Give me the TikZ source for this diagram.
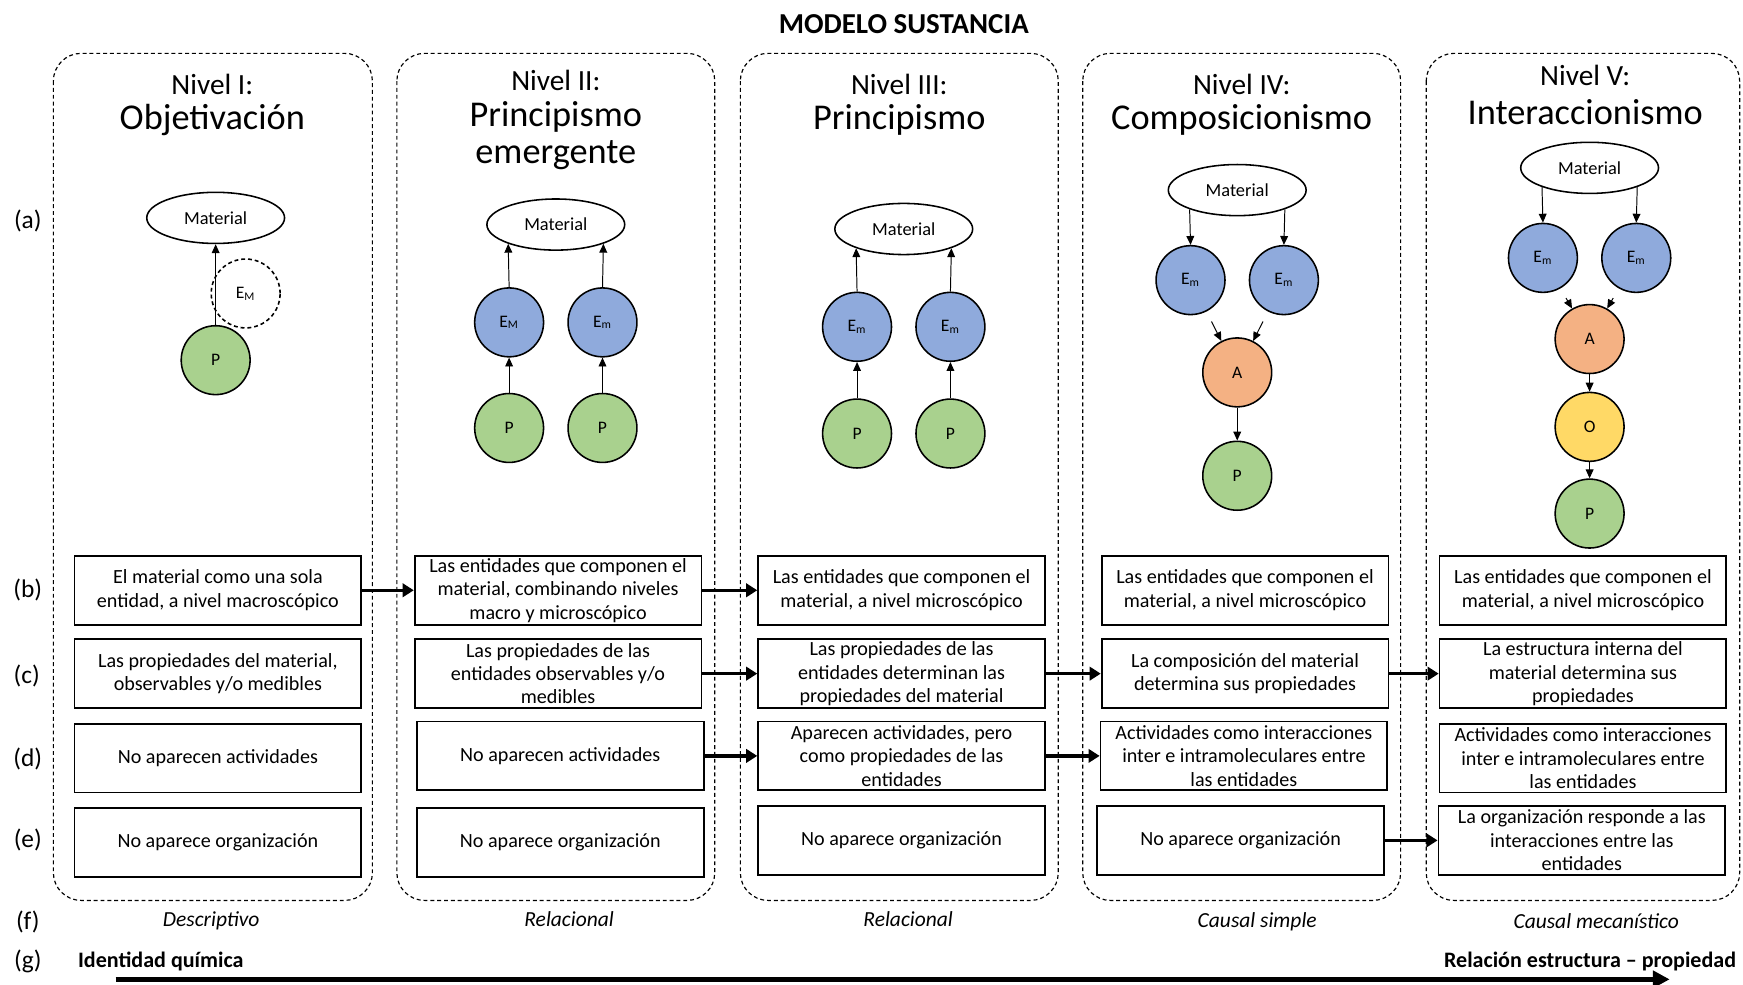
\documentclass[tikz,border=0pt]{standalone}
\usepackage{fontspec}
\setmainfont{Carlito}
\usetikzlibrary{arrows.meta,shapes.geometric}
\definecolor{entblue}{HTML}{8FAADC}
\definecolor{propgreen}{HTML}{A9D18E}
\definecolor{actorange}{HTML}{F4B183}
\definecolor{orgyellow}{HTML}{FFD966}
\begin{document}
\begin{tikzpicture}[x=0.02cm,y=-0.02cm,
    panel/.style={draw,line width=0.6pt,dash pattern=on 2pt off 1.5pt,rounded corners=0.5cm},
    niveltitle/.style={font=\fontsize{15}{18}\selectfont,inner sep=0pt},
    nivelname/.style={font=\fontsize{18.6}{22}\selectfont,inner sep=0pt},
    material/.style={ellipse,draw,line width=0.8pt,minimum width=2.48cm,minimum height=0.92cm,inner sep=0pt,font=\fontsize{9.4}{11}\selectfont},
    entity/.style={circle,draw,line width=0.8pt,fill=entblue,minimum size=1.24cm,inner sep=0pt,font=\fontsize{9}{11}\selectfont},
    prop/.style={entity,fill=propgreen},
    activity/.style={entity,fill=actorange},
    organiz/.style={entity,fill=orgyellow},
    textbox/.style={draw,line width=0.9pt,minimum width=5.16cm,minimum height=1.24cm,inner sep=0pt,align=center,font=\fontsize{10.3}{12}\selectfont},
    rowlabel/.style={font=\fontsize{13}{15}\selectfont},
    modo/.style={font=\fontsize{11}{13}\selectfont\itshape},
    axislabel/.style={font=\fontsize{11.3}{13}\selectfont\bfseries},
    thinarrow/.style={-{Triangle[length=1.6mm,width=1.4mm]},line width=0.5pt},
    boxarrow/.style={-{Triangle[length=2mm,width=2.4mm]},line width=1.7pt},
    axisarrow/.style={-{Triangle[length=3mm,width=3mm]},line width=2.8pt}]
  \useasboundingbox (0,0) rectangle (1568,886);
  \node[font=\fontsize{14.8}{17}\selectfont\bfseries] (title) at (813,22) {MODELO SUSTANCIA};
  \draw[panel] (48,48) rectangle (335,810);
  \draw[panel] (357,48) rectangle (643,810);
  \draw[panel] (666,48) rectangle (952,810);
  \draw[panel] (974,48) rectangle (1260,810);
  \draw[panel] (1283,48) rectangle (1565,810);
  \node[niveltitle] (t1a) at (191,76) {Nivel I:};
  \node[nivelname] (t1b) at (191,108) {Objetivación};
  \node[niveltitle] (t2a) at (500,72) {Nivel II:};
  \node[nivelname] (t2b) at (500,105) {Principismo};
  \node[nivelname] (t2c) at (500,140) {emergente};
  \node[niveltitle] (t3a) at (809,76) {Nivel III:};
  \node[nivelname] (t3b) at (809,108) {Principismo};
  \node[niveltitle] (t4a) at (1117,76) {Nivel IV:};
  \node[nivelname] (t4b) at (1117,108) {Composicionismo};
  \node[niveltitle] (t5a) at (1426,68) {Nivel V:};
  \node[nivelname] (t5b) at (1426,101) {Interaccionismo};
  \node[rowlabel] (la) at (25,199) {(a)};
  \node[rowlabel] (lb) at (25,531) {(b)};
  \node[rowlabel] (lc) at (24,608) {(c)};
  \node[rowlabel] (ld) at (25,683) {(d)};
  \node[rowlabel] (le) at (25,756) {(e)};
  \node[rowlabel] (lf) at (25,829) {(f)};
  \node[rowlabel] (lg) at (25,865) {(g)};
  \node[material] (mat1) at (194,196) {Material};
  \node[entity,fill=none,dash pattern=on 2pt off 1.5pt] (em1) at (221,264) {E\textsubscript{M}};
  \node[prop] (p1) at (194,324) {P};
  \draw[thinarrow] (p1.north) -- (mat1.south);
  \node[material] (mat2) at (500,202) {Material};
  \node[entity] (em2a) at (458,290) {E\textsubscript{M}};
  \node[entity] (em2b) at (542,290) {E\textsubscript{m}};
  \node[prop] (p2a) at (458,385) {P};
  \node[prop] (p2b) at (542,385) {P};
  \draw[thinarrow] (em2a.north) -- (mat2.202);
  \draw[thinarrow] (em2b.north) -- (mat2.338);
  \draw[thinarrow] (p2a.north) -- (em2a.south);
  \draw[thinarrow] (p2b.north) -- (em2b.south);
  \node[material] (mat3) at (813,206) {Material};
  \node[entity] (em3a) at (771,294) {E\textsubscript{m}};
  \node[entity] (em3b) at (855,294) {E\textsubscript{m}};
  \node[prop] (p3a) at (771,390) {P};
  \node[prop] (p3b) at (855,390) {P};
  \draw[thinarrow] (em3a.north) -- (mat3.202);
  \draw[thinarrow] (em3b.north) -- (mat3.338);
  \draw[thinarrow] (p3a.north) -- (em3a.south);
  \draw[thinarrow] (p3b.north) -- (em3b.south);
  \node[material] (mat4) at (1113,171) {Material};
  \node[entity] (em4a) at (1071,252) {E\textsubscript{m}};
  \node[entity] (em4b) at (1155,252) {E\textsubscript{m}};
  \node[activity] (act4) at (1113,335) {A};
  \node[prop] (p4) at (1113,428) {P};
  \draw[thinarrow] (mat4.202) -- (em4a.north);
  \draw[thinarrow] (mat4.338) -- (em4b.north);
  \draw[thinarrow,shorten <=0.2cm] (em4a) -- (act4);
  \draw[thinarrow,shorten <=0.2cm] (em4b) -- (act4);
  \draw[thinarrow] (act4) -- (p4);
  \node[material] (mat5) at (1430,151) {Material};
  \node[entity] (em5a) at (1388,232) {E\textsubscript{m}};
  \node[entity] (em5b) at (1472,232) {E\textsubscript{m}};
  \node[activity] (act5) at (1430,305) {A};
  \node[organiz] (org5) at (1430,384) {O};
  \node[prop] (p5) at (1430,462) {P};
  \draw[thinarrow] (mat5.202) -- (em5a.north);
  \draw[thinarrow] (mat5.338) -- (em5b.north);
  \draw[thinarrow,shorten <=0.2cm] (em5a) -- (act5);
  \draw[thinarrow,shorten <=0.2cm] (em5b) -- (act5);
  \draw[thinarrow] (act5) -- (org5);
  \draw[thinarrow] (org5) -- (p5);
  \node[textbox] (b1) at (196,531) {El material como una sola\\entidad, a nivel macroscópico};
  \node[textbox] (c1) at (196,606) {Las propiedades del material,\\observables y/o medibles};
  \node[textbox] (d1) at (196,682) {No aparecen actividades};
  \node[textbox] (e1) at (196,758) {No aparece organización};
  \node[textbox] (b2) at (502,531) {Las entidades que componen el\\material, combinando niveles\\macro y microscópico};
  \node[textbox] (c2) at (502,606) {Las propiedades de las\\entidades observables y/o\\medibles};
  \node[textbox] (d2) at (504,680) {No aparecen actividades};
  \node[textbox] (e2) at (504,758) {No aparece organización};
  \node[textbox] (b3) at (811,531) {Las entidades que componen el\\material, a nivel microscópico};
  \node[textbox] (c3) at (811,606) {Las propiedades de las\\entidades determinan las\\propiedades del material};
  \node[textbox] (d3) at (811,680) {Aparecen actividades, pero\\como propiedades de las\\entidades};
  \node[textbox] (e3) at (811,756) {No aparece organización};
  \node[textbox] (b4) at (1120,531) {Las entidades que componen el\\material, a nivel microscópico};
  \node[textbox] (c4) at (1120,606) {La composición del material\\determina sus propiedades};
  \node[textbox] (d4) at (1119,680) {Actividades como interacciones\\inter e intramoleculares entre\\las entidades};
  \node[textbox] (e4) at (1116,756) {No aparece organización};
  \node[textbox] (b5) at (1424,531) {Las entidades que componen el\\material, a nivel microscópico};
  \node[textbox] (c5) at (1424,606) {La estructura interna del\\material determina sus\\propiedades};
  \node[textbox] (d5) at (1424,682) {Actividades como interacciones\\inter e intramoleculares entre\\las entidades};
  \node[textbox] (e5) at (1423,756) {La organización responde a las\\interacciones entre las\\entidades};
  \draw[boxarrow] (b1.east) -- (b2.west);
  \draw[boxarrow] (b2.east) -- (b3.west);
  \draw[boxarrow] (c2.east) -- (c3.west);
  \draw[boxarrow] (c3.east) -- (c4.west);
  \draw[boxarrow] (c4.east) -- (c5.west);
  \draw[boxarrow] (d2.east) -- (d3.west);
  \draw[boxarrow] (d3.east) -- (d4.west);
  \draw[boxarrow] (e4.east) -- (e5.west);
  \node[modo] (f1) at (190,828) {Descriptivo};
  \node[modo] (f2) at (512,827) {Relacional};
  \node[modo] (f3) at (817,827) {Relacional};
  \node[modo] (f4) at (1131,829) {Causal simple};
  \node[modo] (f5) at (1436,829) {Causal mecanístico};
  \node[axislabel,anchor=west] (g1) at (64,865) {Identidad química};
  \node[axislabel,anchor=east] (g2) at (1568,865) {Relación estructura – propiedad};
  \coordinate (axisstart) at (104,881);
  \coordinate (axisend) at (1502,881);
  \draw[axisarrow] (axisstart) -- (axisend);
\end{tikzpicture}
\end{document}
